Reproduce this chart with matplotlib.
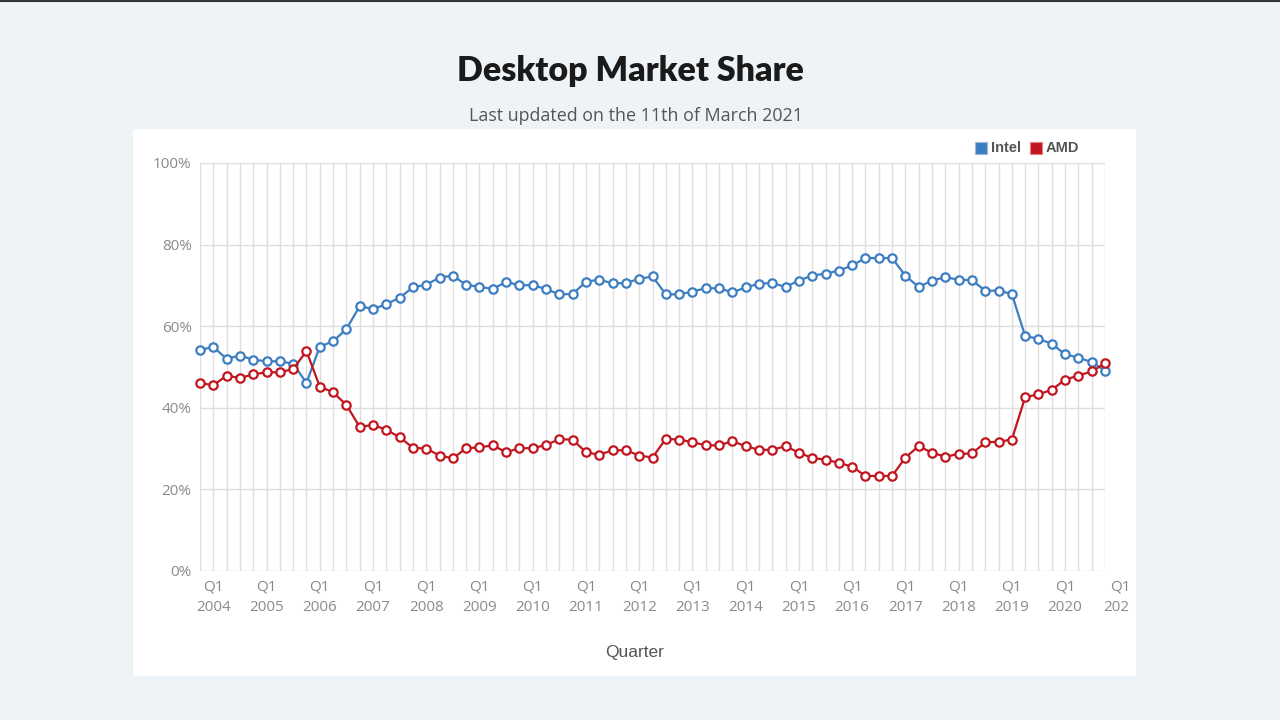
import matplotlib
matplotlib.use("Agg")
import matplotlib.pyplot as plt
import matplotlib.transforms as mtransforms
from matplotlib.patches import Rectangle
from matplotlib.lines import Line2D

# quarterly desktop CPU share, Q4 2003 .. Q4 2020
first_year = 2003
first_quarter = 4
intel = [54.2, 54.9, 52.0, 52.8, 51.8, 51.4, 51.4, 50.8, 46.1, 55.0, 56.3, 59.3,
         64.9, 64.2, 65.4, 67.0, 69.5, 70.2, 71.9, 72.4, 70.1, 69.7, 69.1, 70.9,
         70.0, 70.1, 69.1, 67.8, 67.9, 70.9, 71.4, 70.5, 70.6, 71.6, 72.2, 67.8,
         67.8, 68.5, 69.3, 69.3, 68.3, 69.5, 70.4, 70.6, 69.6, 71.2, 72.4, 72.9,
         73.6, 74.9, 76.7, 76.7, 76.7, 72.4, 69.6, 71.2, 72.0, 71.4, 71.3, 68.7,
         68.7, 67.9, 57.6, 56.9, 55.7, 53.1, 52.3, 51.2, 49.1]
amd = [46.1, 45.5, 47.9, 47.3, 48.2, 48.7, 48.7, 49.5, 53.9, 45.2, 43.8, 40.7,
       35.3, 35.8, 34.6, 32.8, 30.2, 30.0, 28.3, 27.6, 30.1, 30.3, 30.8, 29.1,
       30.1, 30.1, 30.9, 32.3, 32.2, 29.1, 28.5, 29.6, 29.6, 28.3, 27.8, 32.4,
       32.2, 31.6, 30.8, 30.8, 31.8, 30.6, 29.7, 29.7, 30.6, 29.0, 27.7, 27.3,
       26.5, 25.6, 23.3, 23.3, 23.3, 27.8, 30.6, 29.0, 28.0, 28.7, 28.8, 31.5,
       31.7, 32.2, 42.6, 43.3, 44.4, 46.9, 47.9, 48.9, 50.9]
tick_years = list(range(2004, 2022))

n = len(intel)
x = list(range(n))
# index of each Q1 label relative to the first quarter shown
q1_pos = [(y - first_year) * 4 + 1 - first_quarter for y in tick_years]
q1_labels = ["Q1\n" + str(y) for y in tick_years]

bg = "#eef3f7"
blue = "#3d7ec2"
red = "#c1161f"
grid_c = "#dedede"
tick_c = "#8a8a8a"

fig = plt.figure(figsize=(12.8, 7.2), dpi=100, facecolor=bg)

# white card behind the chart
card_l, card_r = 133 / 1280, 1136 / 1280
canvas_r = 1131 / 1280
card = Rectangle((card_l, 1 - 676 / 720), card_r - card_l, (676 - 129) / 720,
                 transform=fig.transFigure, facecolor="white", edgecolor="none", zorder=-10)
fig.add_artist(card)
fig.add_artist(Line2D([0, 1], [0.999, 0.999], color="#333333", lw=1.5,
                      transform=fig.transFigure))

fig.text(0.4925, 1 - 71 / 720, "Desktop Market Share", ha="center", va="center",
         fontsize=24.5, fontweight="heavy", family="Lato", color="#1a1a1a")
fig.text(0.4965, 1 - 116 / 720, "Last updated on the 11th of March 2021", ha="center",
         va="center", fontsize=12.9, family="Open Sans", color="#555555")

ax = fig.add_axes([200 / 1280, 1 - 571 / 720, 905 / 1280, 408 / 720])
ax.set_facecolor("white")

ax.plot(x, intel, color=blue, lw=1.6, marker="o", ms=6, mfc="white", mec=blue,
        mew=1.6, zorder=3, clip_on=False)
ax.plot(x, amd, color=red, lw=1.6, marker="o", ms=6, mfc="white", mec=red,
        mew=1.6, zorder=3, clip_on=False)

ax.set_xlim(0, n - 1)
ax.set_ylim(0, 100)
ax.set_yticks(range(0, 101, 20))
ax.set_yticklabels([f"{v}%" for v in range(0, 101, 20)])
ax.set_xticks(x, minor=True)
vis = [p for p in q1_pos if p <= n - 1]
ax.set_xticks(vis)
ax.set_xticklabels(q1_labels[:len(vis)])
ax.grid(True, which="both", color=grid_c, lw=1)
ax.set_axisbelow(True)
for s in ax.spines.values():
    s.set_visible(False)
ax.tick_params(which="both", length=0)
ax.tick_params(axis="y", pad=6, labelsize=11, labelcolor=tick_c)
ax.tick_params(axis="x", pad=6, labelsize=11, labelcolor=tick_c)
for lbl in ax.get_xticklabels() + ax.get_yticklabels():
    lbl.set_family("Open Sans")
    lbl.set_linespacing(1.55)

# Q1 of the following year sits past the last point and is cut at the canvas edge
shift = mtransforms.ScaledTranslation(2 / 100, 0, fig.dpi_scale_trans)
for p, lab in zip(q1_pos, q1_labels):
    if p > n - 1:
        ax.text(p, -0.020, lab, transform=ax.get_xaxis_transform() + shift,
                ha="center", va="top", fontsize=11, family="Open Sans",
                color=tick_c, linespacing=1.55, clip_on=False)
fig.add_artist(Rectangle((canvas_r, 1 - 630 / 720), card_r - canvas_r, 60 / 720,
                         transform=fig.transFigure, facecolor="white", edgecolor="none",
                         zorder=10))
fig.add_artist(Rectangle((card_r, 1 - 630 / 720), 1 - card_r, 60 / 720,
                         transform=fig.transFigure, facecolor=bg, edgecolor="none",
                         zorder=10))

fig.text(635 / 1280, 1 - 653 / 720, "Quarter", ha="center", va="center", fontsize=12.5,
         family="Liberation Sans", color="#555555")

# legend
lx, ly = 975 / 1280, 1 - 148 / 720
for label, col, dx in [("Intel", blue, 0), ("AMD", red, 55 / 1280)]:
    fig.add_artist(Rectangle((lx + dx, ly - 6 / 720), 12 / 1280, 12 / 720,
                             transform=fig.transFigure, facecolor=col,
                             edgecolor="#9db8d8" if col == blue else "#e08080", lw=0.8))
    fig.text(lx + dx + 16 / 1280, ly, label, ha="left", va="center", fontsize=10.5,
             fontweight="bold", family="Liberation Sans", color="#555555")

fig.savefig("out.png", dpi=100, facecolor=bg)
